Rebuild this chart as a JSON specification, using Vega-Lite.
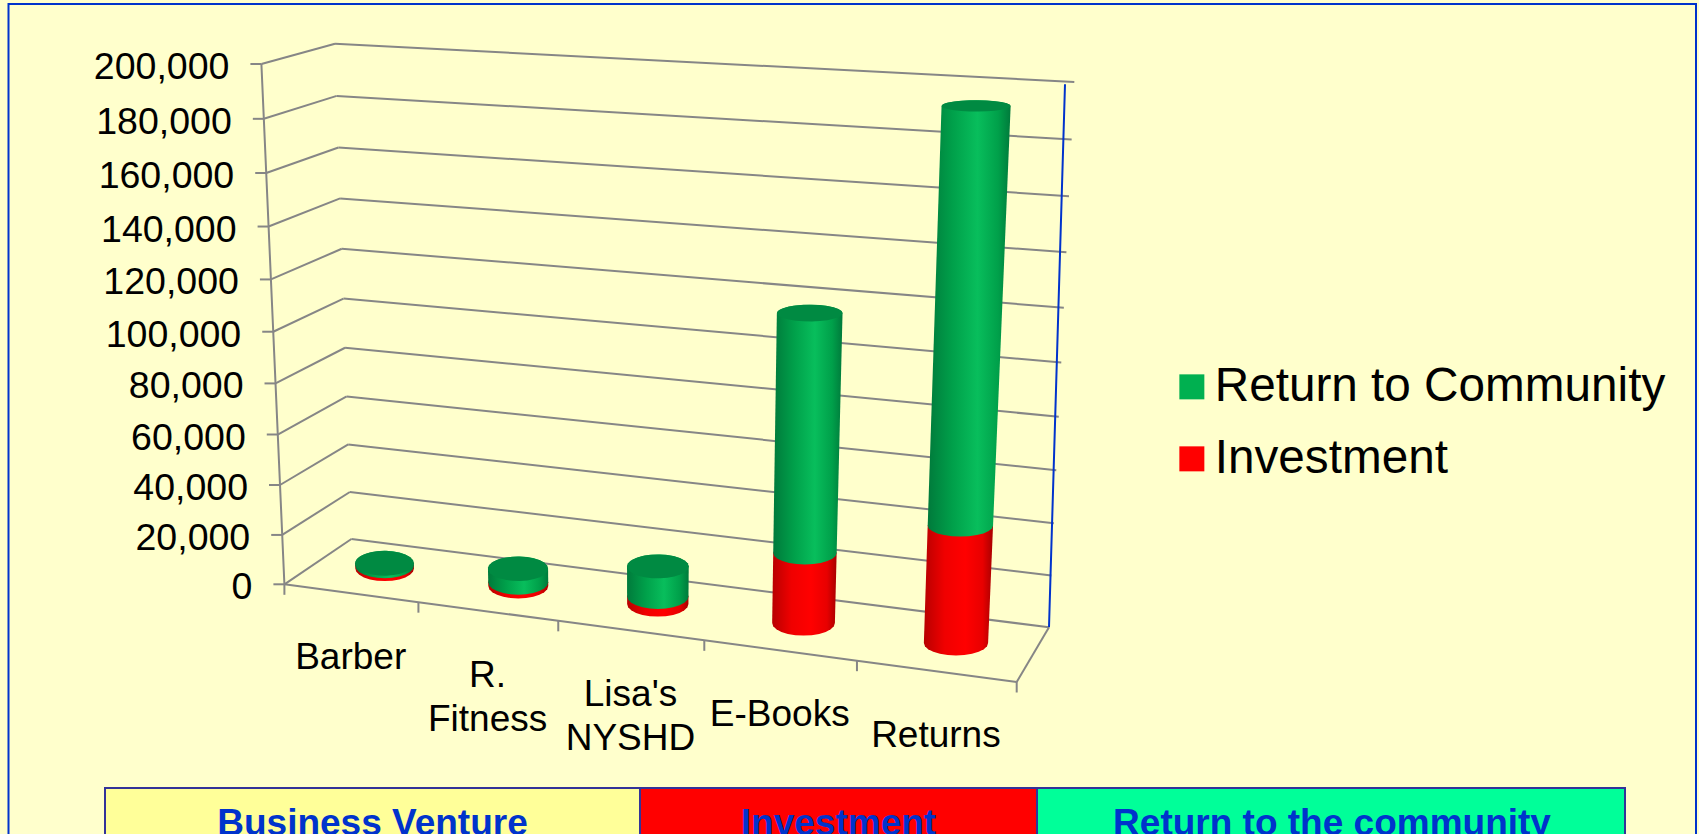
{
"$schema":"https://vega.github.io/schema/vega-lite/v6.json",
"autosize":{"type":"none"},"padding":0,"width":1699,"height":834,
"background":"#FFFFCC",
"config":{"view":{"stroke":null},"font":"Liberation Sans"},
"datasets":{
"bars":[
{"venture":"Barber","slot":0,"series":"Investment","value":1200},
{"venture":"Barber","slot":0,"series":"Return to Community","value":1000},
{"venture":"R. Fitness","slot":1,"series":"Investment","value":1500},
{"venture":"R. Fitness","slot":1,"series":"Return to Community","value":5500},
{"venture":"Lisa's NYSHD","slot":2,"series":"Investment","value":3000},
{"venture":"Lisa's NYSHD","slot":2,"series":"Return to Community","value":12000},
{"venture":"E-Books","slot":3,"series":"Investment","value":27300},
{"venture":"E-Books","slot":3,"series":"Return to Community","value":90200},
{"venture":"Returns","slot":4,"series":"Investment","value":44500},
{"venture":"Returns","slot":4,"series":"Return to Community","value":150500}],
"levels":[{"level":0},{"level":20000},{"level":40000},{"level":60000},{"level":80000},{"level":100000},{"level":120000},{"level":140000},{"level":160000},{"level":180000},{"level":200000}],
"ticks":[{"u":0},{"u":0.2},{"u":0.4},{"u":0.6},{"u":0.8},{"u":1}],
"frame":[{"panel":"frame"}],
"headers":[{"header":"Business Venture"},{"header":"Investment"},{"header":"Return to the community"}]
},
"data":{"name":"frame"},
"encoding":{
"x":{"field":"px","type":"quantitative","axis":null,"scale":{"domain":[0,1699],"nice":false,"zero":false}},
"y":{"field":"py","type":"quantitative","axis":null,"scale":{"domain":[0,834],"nice":false,"zero":false,"reverse":true}}
},
"layer":[
{"data":{"name":"frame"},"transform":[{"calculate":"8.5","as":"px"},{"calculate":"1696","as":"px2"},{"calculate":"4","as":"py"},{"calculate":"860","as":"py2"}],
"mark":{"type":"rect","fill":null,"stroke":"#0033CC","strokeWidth":2},
"encoding":{"x2":{"field":"px2"},"y2":{"field":"py2"}}},

{"data":{"name":"levels"},"transform":[
{"calculate":"datum.level/200000","as":"h"},{"calculate":"datum.h/(datum.h+1.06*(1-datum.h))","as":"sh"},
{"calculate":"284.4-23*datum.sh","as":"px"},{"calculate":"584.3-520.3*datum.sh","as":"py"},
{"calculate":"351.4-16.4*datum.sh","as":"px2"},{"calculate":"539-495.3*datum.sh","as":"py2"}],
"mark":{"type":"rule","stroke":"#868686","strokeWidth":2},
"encoding":{"x2":{"field":"px2"},"y2":{"field":"py2"}}},

{"data":{"name":"levels"},"transform":[
{"calculate":"datum.level/200000","as":"h"},{"calculate":"datum.h/(datum.h+1.06*(1-datum.h))","as":"sh"},
{"calculate":"351.4-16.4*datum.sh","as":"px"},{"calculate":"539-495.3*datum.sh","as":"py"},
{"calculate":"1049+25.3*datum.sh","as":"px2"},{"calculate":"627.3-545.3*datum.sh","as":"py2"}],
"mark":{"type":"rule","stroke":"#868686","strokeWidth":2},
"encoding":{"x2":{"field":"px2"},"y2":{"field":"py2"}}},

{"data":{"name":"levels"},"transform":[
{"calculate":"datum.level/200000","as":"h"},{"calculate":"datum.h/(datum.h+1.06*(1-datum.h))","as":"sh"},
{"calculate":"284.4-23*datum.sh","as":"px"},{"calculate":"584.3-520.3*datum.sh","as":"py"},
{"calculate":"datum.px-11","as":"px2"}],
"mark":{"type":"rule","stroke":"#868686","strokeWidth":2},
"encoding":{"x2":{"field":"px2"}}},

{"data":{"name":"levels"},"transform":[
{"calculate":"datum.level/200000","as":"h"},{"calculate":"datum.h/(datum.h+1.06*(1-datum.h))","as":"sh"},
{"calculate":"284.4-23*datum.sh","as":"px"},{"calculate":"584.3-520.3*datum.sh","as":"py"}],
"mark":{"type":"line","stroke":"#868686","strokeWidth":2},
"encoding":{"order":{"field":"level"}}},

{"data":{"name":"levels"},"transform":[
{"calculate":"datum.level/200000","as":"h"},{"calculate":"datum.h/(datum.h+1.06*(1-datum.h))","as":"sh"},
{"calculate":"1049+16*datum.sh","as":"px"},{"calculate":"627.3-543*datum.sh","as":"py"}],
"mark":{"type":"line","stroke":"#0033CC","strokeWidth":2},
"encoding":{"order":{"field":"level"}}},

{"data":{"name":"ticks"},"transform":[
{"calculate":"datum.u/(datum.u+1.116*(1-datum.u))","as":"su"},
{"calculate":"284.4+732.3*datum.su","as":"px"},{"calculate":"584.3+97.7*datum.su","as":"py"}],
"mark":{"type":"line","stroke":"#868686","strokeWidth":2},
"encoding":{"order":{"field":"u"}}},

{"data":{"name":"ticks"},"transform":[
{"calculate":"datum.u/(datum.u+1.116*(1-datum.u))","as":"su"},
{"calculate":"284.4+732.3*datum.su","as":"px"},{"calculate":"584.3+97.7*datum.su","as":"py"},
{"calculate":"datum.py+10.5","as":"py2"}],
"mark":{"type":"rule","stroke":"#868686","strokeWidth":2},
"encoding":{"y2":{"field":"py2"}}},

{"data":{"name":"ticks"},"transform":[{"filter":"datum.u==1"},
{"calculate":"1016.7","as":"px"},{"calculate":"682","as":"py"},{"calculate":"1049","as":"px2"},{"calculate":"627.3","as":"py2"}],
"mark":{"type":"rule","stroke":"#868686","strokeWidth":2},
"encoding":{"x2":{"field":"px2"},"y2":{"field":"py2"}}},

{"data":{"name":"bars"},"transform":[
{"stack":"value","groupby":["venture"],"sort":[{"field":"series","order":"ascending"}],"as":["low","high"]},
{"filter":"datum.series=='Investment'"},
{"calculate":"(datum.slot+0.5)/5","as":"u"},{"calculate":"datum.u/(datum.u+1.116*(1-datum.u))","as":"su"},
{"calculate":"((284.4+732.3*datum.su)+(351.4+697.6*datum.su))/2+2","as":"xb"},{"calculate":"((261.4+783.6*datum.su)+(335+739.3*datum.su))/2+1","as":"xt"},
{"calculate":"((584.3+97.7*datum.su)+(539+88.3*datum.su))/2-1.5","as":"yb"},{"calculate":"((64+46*datum.su)+(43.7+38.3*datum.su))/2","as":"yt"},
{"calculate":"datum.low/200000","as":"hl"},{"calculate":"datum.high/200000","as":"hh"},
{"calculate":"datum.hl/(datum.hl+1.06*(1-datum.hl))","as":"sl"},{"calculate":"datum.hh/(datum.hh+1.06*(1-datum.hh))","as":"sh"},
{"calculate":"29+3.5*datum.su","as":"a"},
{"calculate":"[0,1,2,3,4,5,6,7,8,9,10,11,12,13,14,15,16,17,18,19,20,21,22,23,24,25]","as":"k"},{"flatten":["k"]},
{"calculate":"datum.k<=12 ? datum.xb+(datum.xt-datum.xb)*datum.sl-(datum.a+2.5*datum.hl)*cos(PI*datum.k/12) : datum.xb+(datum.xt-datum.xb)*datum.sh+(datum.a+2.5*datum.hh)*cos(PI*(datum.k-13)/12)","as":"px"},
{"calculate":"datum.k<=12 ? datum.yb+(datum.yt-datum.yb)*datum.sl+(12.5-7*datum.hl)*sin(PI*datum.k/12) : datum.yb+(datum.yt-datum.yb)*datum.sh-(12.5-7*datum.hh)*sin(PI*(datum.k-13)/12)","as":"py"}],
"mark":{"type":"line","strokeWidth":0,"fill":{"gradient":"linear","x1":0,"y1":0,"x2":1,"y2":0,"stops":[{"offset":0,"color":"#B80000"},{"offset":0.3,"color":"#F00000"},{"offset":0.6,"color":"#FF0000"},{"offset":0.85,"color":"#E80000"},{"offset":1,"color":"#A80000"}]}},
"encoding":{"detail":{"field":"venture"},"order":{"field":"k"}}},

{"data":{"name":"bars"},"transform":[
{"stack":"value","groupby":["venture"],"sort":[{"field":"series","order":"ascending"}],"as":["low","high"]},
{"filter":"datum.series=='Return to Community'"},
{"calculate":"(datum.slot+0.5)/5","as":"u"},{"calculate":"datum.u/(datum.u+1.116*(1-datum.u))","as":"su"},
{"calculate":"((284.4+732.3*datum.su)+(351.4+697.6*datum.su))/2+2","as":"xb"},{"calculate":"((261.4+783.6*datum.su)+(335+739.3*datum.su))/2+1","as":"xt"},
{"calculate":"((584.3+97.7*datum.su)+(539+88.3*datum.su))/2-1.5","as":"yb"},{"calculate":"((64+46*datum.su)+(43.7+38.3*datum.su))/2","as":"yt"},
{"calculate":"datum.low/200000","as":"hl"},{"calculate":"datum.high/200000","as":"hh"},
{"calculate":"datum.hl/(datum.hl+1.06*(1-datum.hl))","as":"sl"},{"calculate":"datum.hh/(datum.hh+1.06*(1-datum.hh))","as":"sh"},
{"calculate":"29+3.5*datum.su","as":"a"},
{"calculate":"[0,1,2,3,4,5,6,7,8,9,10,11,12,13,14,15,16,17,18,19,20,21,22,23,24,25]","as":"k"},{"flatten":["k"]},
{"calculate":"datum.k<=12 ? datum.xb+(datum.xt-datum.xb)*datum.sl-(datum.a+2.5*datum.hl)*cos(PI*datum.k/12) : datum.xb+(datum.xt-datum.xb)*datum.sh+(datum.a+2.5*datum.hh)*cos(PI*(datum.k-13)/12)","as":"px"},
{"calculate":"datum.k<=12 ? datum.yb+(datum.yt-datum.yb)*datum.sl+(12.5-7*datum.hl)*sin(PI*datum.k/12) : datum.yb+(datum.yt-datum.yb)*datum.sh-(12.5-7*datum.hh)*sin(PI*(datum.k-13)/12)","as":"py"}],
"mark":{"type":"line","strokeWidth":0,"fill":{"gradient":"linear","x1":0,"y1":0,"x2":1,"y2":0,"stops":[{"offset":0,"color":"#007A3B"},{"offset":0.3,"color":"#00A04A"},{"offset":0.6,"color":"#08BE5C"},{"offset":0.85,"color":"#00A04A"},{"offset":1,"color":"#007A3B"}]}},
"encoding":{"detail":{"field":"venture"},"order":{"field":"k"}}},

{"data":{"name":"bars"},"transform":[
{"stack":"value","groupby":["venture"],"sort":[{"field":"series","order":"ascending"}],"as":["low","high"]},
{"filter":"datum.series=='Return to Community'"},
{"calculate":"(datum.slot+0.5)/5","as":"u"},{"calculate":"datum.u/(datum.u+1.116*(1-datum.u))","as":"su"},
{"calculate":"((284.4+732.3*datum.su)+(351.4+697.6*datum.su))/2+2","as":"xb"},{"calculate":"((261.4+783.6*datum.su)+(335+739.3*datum.su))/2+1","as":"xt"},
{"calculate":"((584.3+97.7*datum.su)+(539+88.3*datum.su))/2-1.5","as":"yb"},{"calculate":"((64+46*datum.su)+(43.7+38.3*datum.su))/2","as":"yt"},
{"calculate":"datum.high/200000","as":"hh"},
{"calculate":"datum.hh/(datum.hh+1.06*(1-datum.hh))","as":"sh"},
{"calculate":"29+3.5*datum.su+2.5*datum.hh","as":"a"},
{"calculate":"[0,1,2,3,4,5,6,7,8,9,10,11,12,13,14,15,16,17,18,19,20,21,22,23,24,25]","as":"k"},{"flatten":["k"]},
{"calculate":"datum.xb+(datum.xt-datum.xb)*datum.sh+datum.a*cos(2*PI*datum.k/25)","as":"px"},
{"calculate":"datum.yb+(datum.yt-datum.yb)*datum.sh-(12.5-7*datum.hh)*sin(2*PI*datum.k/25)","as":"py"}],
"mark":{"type":"line","strokeWidth":0,"fill":"#008A42"},
"encoding":{"detail":{"field":"venture"},"order":{"field":"k"}}},

{"data":{"name":"levels"},"transform":[
{"calculate":"datum.level/200000","as":"h"},{"calculate":"datum.h/(datum.h+1.06*(1-datum.h))","as":"sh"},
{"calculate":"284.4-23*datum.sh-32","as":"px"},{"calculate":"584.3-520.3*datum.sh+4","as":"py"}],
"mark":{"type":"text","align":"right","baseline":"middle","fontSize":37.5,"fill":"#000000"},
"encoding":{"text":{"field":"level","type":"quantitative","format":","}}},

{"data":{"name":"bars"},"transform":[{"filter":"datum.series=='Investment'"},
{"calculate":"(datum.slot+0.5)/5","as":"u"},{"calculate":"datum.u/(datum.u+1.116*(1-datum.u))","as":"su"},
{"calculate":"284.4+732.3*datum.su","as":"px"},{"calculate":"584.3+97.7*datum.su+76","as":"py"}],
"mark":{"type":"text","align":"center","baseline":"alphabetic","fontSize":37,"lineBreak":" ","lineHeight":44,"fill":"#000000"},
"encoding":{"text":{"field":"venture"}}},

{"data":{"name":"frame"},"transform":[{"calculate":"105","as":"px"},{"calculate":"640","as":"px2"},{"calculate":"788","as":"py"},{"calculate":"860","as":"py2"}],"mark":{"type":"rect","fill":"#FFFF99","stroke":"#333399","strokeWidth":2},"encoding":{"x2":{"field":"px2"},"y2":{"field":"py2"}}},
{"data":{"name":"frame"},"transform":[{"calculate":"640","as":"px"},{"calculate":"1037","as":"px2"},{"calculate":"788","as":"py"},{"calculate":"860","as":"py2"}],"mark":{"type":"rect","fill":"#FF0000","stroke":"#333399","strokeWidth":2},"encoding":{"x2":{"field":"px2"},"y2":{"field":"py2"}}},
{"data":{"name":"frame"},"transform":[{"calculate":"1037","as":"px"},{"calculate":"1625","as":"px2"},{"calculate":"788","as":"py"},{"calculate":"860","as":"py2"}],"mark":{"type":"rect","fill":"#00FF99","stroke":"#333399","strokeWidth":2},"encoding":{"x2":{"field":"px2"},"y2":{"field":"py2"}}},
{"data":{"name":"headers"},"transform":[{"calculate":"datum.header=='Business Venture' ? 372.5 : datum.header=='Investment' ? 838.5 : 1332","as":"px"},{"calculate":"835","as":"py"}],"mark":{"type":"text","fontSize":37,"fontWeight":"bold","fill":"#0033CC","baseline":"alphabetic","align":"center"},"encoding":{"text":{"field":"header"}}},

{"data":{"name":"bars"},"mark":{"type":"square","size":0,"opacity":1},
"encoding":{"x":{"value":0},"y":{"value":0},"color":{"field":"series","type":"nominal","scale":{"domain":["Return to Community","Investment"],"range":["#00B050","#FF0000"]},
"legend":{"title":null,"orient":"none","legendX":1168,"legendY":363,"padding":0,"symbolType":"square","symbolSize":625,"symbolStrokeWidth":0,"labelFontSize":47.7,"labelFont":"Liberation Sans","labelColor":"#000000","labelOffset":-1,"rowPadding":23,"labelLimit":600,"symbolOpacity":1}}}}
]
}
